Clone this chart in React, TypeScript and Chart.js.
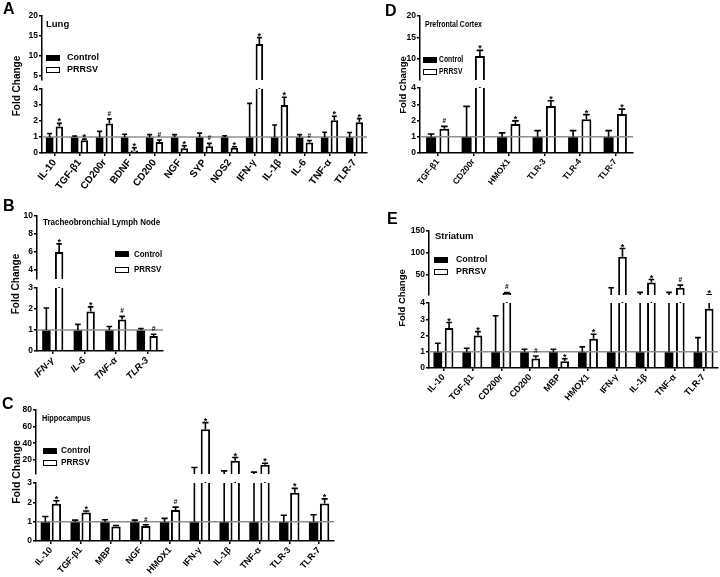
import React, { useEffect, useRef } from 'react';
import { Chart, registerables } from 'chart.js';

Chart.register(...registerables);

const FONT = "'Liberation Sans', Arial, Helvetica, sans-serif";

// ---------- A: Lung ----------
const lungGenes = ['IL-10', 'TGF-β1', 'CD200r', 'BDNF', 'CD200', 'NGF', 'SYP', 'NOS2', 'IFN-γ', 'IL-1β', 'IL-6', 'TNF-α', 'TLR-7'];
const lungControl = [1, 1, 1, 1, 1, 1, 1, 1, 1, 1, 1, 1, 1];
const lungControlSem = [0.22, 0.06, 0.35, 0.17, 0.15, 0.15, 0.24, 0.08, 2.1, 0.75, 0.15, 0.3, 0.28];
const lungPrrsv = [1.65, 0.8, 1.85, 0.15, 0.68, 0.3, 0.42, 0.33, 13.0, 3.0, 0.65, 2.05, 1.92];
const lungPrrsvSem = [0.2, 0.07, 0.28, 0.18, 0.13, 0.15, 0.18, 0.06, 1.6, 0.48, 0.13, 0.25, 0.23];
const lungMarks = ['*', '*', '#', '*', '#', '*', '#', '*', '*', '*', '#', '*', '*'];

// ---------- B: Tracheobronchial Lymph Node ----------
const tblnGenes = ['IFN-γ', 'IL-6', 'TNF-α', 'TLR-3'];
const tblnControl = [1, 1, 1, 1];
const tblnControlSem = [1.05, 0.27, 0.17, 0.07];
const tblnPrrsv = [6.0, 1.88, 1.5, 0.72];
const tblnPrrsvSem = [0.9, 0.22, 0.15, 0.08];
const tblnMarks = ['*', '*', '#', '#'];

// ---------- C: Hippocampus ----------
const hippoGenes = ['IL-10', 'TGF-β1', 'MBP', 'NGF', 'HMOX1', 'IFN-γ', 'IL-1β', 'TNF-α', 'TLR-3', 'TLR-7'];
const hippoControl = [1, 1, 1, 1, 1, 1, 1, 1, 1, 1];
const hippoControlSem = [0.27, 0.08, 0.1, 0.08, 0.17, 9.8, 5.8, 4.2, 0.33, 0.36];
const hippoPrrsv = [1.93, 1.47, 0.75, 0.78, 1.6, 56.8, 18.8, 14, 2.49, 1.94];
const hippoPrrsvSem = [0.15, 0.08, 0.05, 0.06, 0.15, 8, 4, 2, 0.23, 0.24];
const hippoMarks = ['*', '*', '', '#', '#', '*', '*', '*', '*', '*'];

// ---------- D: Prefrontal Cortex ----------
const pfcGenes = ['TGF-β1', 'CD200r', 'HMOX1', 'TLR-3', 'TLR-4', 'TLR-7'];
const pfcControl = [1, 1, 1, 1, 1, 1];
const pfcControlSem = [0.17, 1.87, 0.24, 0.38, 0.38, 0.38];
const pfcPrrsv = [1.5, 10.6, 1.78, 2.9, 2.08, 2.4];
const pfcPrrsvSem = [0.14, 1.35, 0.2, 0.32, 0.28, 0.3];
const pfcMarks = ['#', '*', '*', '*', '*', '*'];

// ---------- E: Striatum ----------
const striGenes = ['IL-10', 'TGF-β1', 'CD200r', 'CD200', 'MBP', 'HMOX1', 'IFN-γ', 'IL-1β', 'TNF-α', 'TLR-7'];
const striControl = [1, 1, 1, 1, 1, 1, 1, 1, 1, 1];
const striControlSem = [0.52, 0.22, 2.22, 0.15, 0.15, 0.3, 20.4, 10, 10, 0.87];
const striPrrsv = [2.46, 2.0, 10, 0.58, 0.42, 1.8, 91.4, 33.5, 21.4, 3.65];
const striPrrsvSem = [0.34, 0.24, 0.8, 0.16, 0.15, 0.28, 18.8, 6.5, 6, 1.75];
const striMarks = ['*', '*', '#', '#', '*', '*', '*', '*', '#', '*'];

const YW = 30;
const PT = 10;
const PB = 10;
const PR = 4;
const XH = 50;

type Seg = { min: number; max: number; ticks?: number[]; top: number; bottom: number };
type Txt = { size: number; sx: number };
type Panel = {
  key: string;
  letter: string;
  letterPos: [number, number];
  title: string;
  titlePos: [number, number];
  titleFont: Txt;
  legendX: number;
  legendTextX: number;
  legendY: [number, number];
  legendFont: Txt;
  foldPos: [number, number];
  foldSize: number;
  labels: string[];
  control: number[];
  controlSem: number[];
  prrsv: number[];
  prrsvSem: number[];
  marks: string[];
  axisX: number;
  right: number;
  upper: Seg;
  lower: Seg;
  catPct: number;
  barPct: number;
  xFont: { size: number; style: string; rot: number };
  yFontSize: number;
};

const panels: Panel[] = [
  {
    key: 'A', letter: 'A', letterPos: [3, 3],
    title: 'Lung', titlePos: [46, 24], titleFont: { size: 9.5, sx: 1 },
    legendX: 46, legendTextX: 67, legendY: [57.5, 69.5], legendFont: { size: 9, sx: 1 },
    foldPos: [17, 86], foldSize: 10,
    labels: lungGenes, control: lungControl, controlSem: lungControlSem, prrsv: lungPrrsv, prrsvSem: lungPrrsvSem, marks: lungMarks,
    axisX: 42, right: 367,
    upper: { min: 4, max: 20, ticks: [5, 10, 15, 20], top: 16, bottom: 80 },
    lower: { min: 0, max: 4, top: 89, bottom: 153 },
    catPct: 0.78, barPct: 0.77, xFont: { size: 10, style: 'normal', rot: 52 }, yFontSize: 8.5,
  },
  {
    key: 'B', letter: 'B', letterPos: [3, 200],
    title: 'Tracheobronchial Lymph Node', titlePos: [43, 222], titleFont: { size: 9, sx: 0.89 },
    legendX: 115, legendTextX: 134, legendY: [254.2, 269.5], legendFont: { size: 9, sx: 0.88 },
    foldPos: [16, 284], foldSize: 10,
    labels: tblnGenes, control: tblnControl, controlSem: tblnControlSem, prrsv: tblnPrrsv, prrsvSem: tblnPrrsvSem, marks: tblnMarks,
    axisX: 37, right: 163,
    upper: { min: 3, max: 10, ticks: [4, 6, 8, 10], top: 216, bottom: 279 },
    lower: { min: 0, max: 3, top: 288, bottom: 351 },
    catPct: 0.81, barPct: 0.66, xFont: { size: 9.5, style: 'italic', rot: 45 }, yFontSize: 8.5,
  },
  {
    key: 'C', letter: 'C', letterPos: [2, 398],
    title: 'Hippocampus', titlePos: [42, 418.5], titleFont: { size: 8.5, sx: 0.86 },
    legendX: 43, legendTextX: 61, legendY: [450.5, 462.5], legendFont: { size: 8.5, sx: 0.98 },
    foldPos: [16, 472], foldSize: 10.5,
    labels: hippoGenes, control: hippoControl, controlSem: hippoControlSem, prrsv: hippoPrrsv, prrsvSem: hippoPrrsvSem, marks: hippoMarks,
    axisX: 36, right: 334,
    upper: { min: 3, max: 80, ticks: [20, 40, 60, 80], top: 410, bottom: 474 },
    lower: { min: 0, max: 3, top: 483, bottom: 541 },
    catPct: 0.74, barPct: 0.85, xFont: { size: 9, style: 'normal', rot: 48 }, yFontSize: 8.5,
  },
  {
    key: 'D', letter: 'D', letterPos: [385, 5],
    title: 'Prefrontal Cortex', titlePos: [425, 24], titleFont: { size: 8.5, sx: 0.82 },
    legendX: 423, legendTextX: 439, legendY: [59.5, 71.5], legendFont: { size: 8.5, sx: 0.8 },
    foldPos: [402.5, 85], foldSize: 9.5,
    labels: pfcGenes, control: pfcControl, controlSem: pfcControlSem, prrsv: pfcPrrsv, prrsvSem: pfcPrrsvSem, marks: pfcMarks,
    axisX: 420, right: 633,
    upper: { min: 5, max: 20, ticks: [10, 15, 20], top: 16, bottom: 80 },
    lower: { min: 0, max: 4, top: 88, bottom: 153 },
    catPct: 0.75, barPct: 0.75, xFont: { size: 8.5, style: 'normal', rot: 52 }, yFontSize: 8.5,
  },
  {
    key: 'E', letter: 'E', letterPos: [387, 213],
    title: 'Striatum', titlePos: [435, 236], titleFont: { size: 9.5, sx: 1 },
    legendX: 434, legendTextX: 456, legendY: [259.5, 271.5], legendFont: { size: 9, sx: 0.98 },
    foldPos: [401.5, 298], foldSize: 9.5,
    labels: striGenes, control: striControl, controlSem: striControlSem, prrsv: striPrrsv, prrsvSem: striPrrsvSem, marks: striMarks,
    axisX: 429, right: 718,
    upper: { min: 5, max: 150, ticks: [50, 100, 150], top: 231, bottom: 295 },
    lower: { min: 0, max: 4, top: 303, bottom: 368 },
    catPct: 0.78, barPct: 0.77, xFont: { size: 9, style: 'normal', rot: 48 }, yFontSize: 8.5,
  },
];

function annotPlugin(p: Panel, isLower: boolean) {
  const seg = isLower ? p.lower : p.upper;
  return {
    id: 'annot' + p.key + (isLower ? 'L' : 'U'),
    afterDatasetsDraw(chart: any) {
      const ctx = chart.ctx as CanvasRenderingContext2D;
      const a = chart.chartArea;
      const y = chart.scales.y;
      ctx.save();
      if (isLower) {
        const yy = y.getPixelForValue(1);
        ctx.strokeStyle = '#8f8f8f';
        ctx.lineWidth = 1.5;
        ctx.beginPath();
        ctx.moveTo(a.left, yy);
        ctx.lineTo(a.right, yy);
        ctx.stroke();
      }
      ctx.beginPath();
      ctx.rect(a.left, a.top - 1, a.right - a.left, a.bottom - a.top + 1);
      ctx.clip();
      ctx.strokeStyle = '#000';
      ctx.lineWidth = 1.6;
      const series: [number[], number[]][] = [
        [p.control, p.controlSem],
        [p.prrsv, p.prrsvSem],
      ];
      series.forEach(([m, s], di) => {
        chart.getDatasetMeta(di).data.forEach((bar: any, j: number) => {
          const x = bar.x;
          const w = bar.width;
          const capVal = m[j] + s[j];
          if (capVal < seg.min) return;
          const y0 = y.getPixelForValue(Math.max(m[j], seg.min));
          const y1 = y.getPixelForValue(Math.min(capVal, seg.max));
          const cw = w * 0.33;
          ctx.beginPath();
          ctx.moveTo(x, y0);
          ctx.lineTo(x, y1);
          if (capVal <= seg.max) {
            ctx.moveTo(x - cw, y1);
            ctx.lineTo(x + cw, y1);
          }
          ctx.stroke();
        });
      });
      ctx.restore();

      ctx.save();
      ctx.fillStyle = '#000';
      ctx.textAlign = 'center';
      ctx.textBaseline = 'alphabetic';
      chart.getDatasetMeta(1).data.forEach((bar: any, j: number) => {
        const mk = p.marks[j];
        if (!mk) return;
        const capVal = p.prrsv[j] + p.prrsvSem[j];
        if (capVal < seg.min || capVal > seg.max) return;
        const y1 = y.getPixelForValue(capVal);
        if (mk === '*') {
          ctx.font = `bold 9px ${FONT}`;
          ctx.fillText(mk, bar.x, y1 + 1);
        } else {
          ctx.font = `bold 6.5px ${FONT}`;
          ctx.fillText(mk, bar.x, y1 - 3);
        }
      });
      ctx.restore();
    },
  };
}

function Segment({ p, isLower }: { p: Panel; isLower: boolean }) {
  const ref = useRef<HTMLCanvasElement>(null);
  const seg = isLower ? p.lower : p.upper;
  const left = p.axisX - YW;
  const top = seg.top - PT;
  const width = p.right - p.axisX + YW + PR;
  const height = PT + (seg.bottom - seg.top) + (isLower ? XH : PB);

  useEffect(() => {
    if (!ref.current) return;
    const tickFont = { family: FONT, size: p.yFontSize, weight: 'bold' as const };
    const xScale: any = {
      display: isLower,
      offset: true,
      grid: { display: true, drawOnChartArea: false, offset: false, color: '#000', lineWidth: 1.5, tickLength: 3 },
      border: { display: true, color: '#000', width: 1.5 },
      ticks: {
        autoSkip: false,
        minRotation: p.xFont.rot,
        maxRotation: p.xFont.rot,
        color: '#000',
        padding: 1,
        font: { family: FONT, size: p.xFont.size, weight: 'bold', style: p.xFont.style },
      },
    };
    if (isLower) {
      xScale.afterFit = (s: any) => {
        s.height = XH;
      };
    }
    const chart = new Chart(ref.current, {
      type: 'bar',
      data: {
        labels: p.labels,
        datasets: [
          {
            label: 'Control',
            data: p.control,
            backgroundColor: '#000',
            borderWidth: 0,
            categoryPercentage: p.catPct,
            barPercentage: p.barPct,
          },
          {
            label: 'PRRSV',
            data: p.prrsv,
            backgroundColor: '#fff',
            borderColor: '#000',
            borderWidth: 2,
            categoryPercentage: p.catPct,
            barPercentage: p.barPct,
          },
        ],
      },
      options: {
        responsive: false,
        animation: false,
        devicePixelRatio: 1,
        layout: { padding: { top: PT, bottom: isLower ? 0 : PB, left: 0, right: PR } },
        plugins: { legend: { display: false }, tooltip: { enabled: false }, title: { display: false } },
        scales: {
          x: xScale,
          y: {
            min: seg.min,
            max: seg.max,
            grid: { display: true, drawOnChartArea: false, color: '#000', lineWidth: 1.5, tickLength: 3 },
            border: { display: true, color: '#000', width: 1.5 },
            ticks: { stepSize: 1, color: '#000', padding: 1, font: tickFont },
            afterFit: (s: any) => {
              s.width = YW;
            },
            afterBuildTicks: seg.ticks
              ? (s: any) => {
                  s.ticks = (seg.ticks as number[]).map((v) => ({ value: v }));
                }
              : undefined,
          },
        },
      },
      plugins: [annotPlugin(p, isLower)],
    } as any);
    return () => chart.destroy();
  }, []);

  return (
    <canvas
      ref={ref}
      width={width}
      height={height}
      style={{ position: 'absolute', left, top, width, height }}
    />
  );
}

function Text({ x, cy, f, children }: { x: number; cy: number; f: Txt; children: React.ReactNode }) {
  return (
    <div
      style={{
        position: 'absolute',
        left: x,
        top: cy - f.size * 0.49,
        fontSize: f.size,
        lineHeight: `${f.size}px`,
        fontWeight: 'bold',
        whiteSpace: 'nowrap',
        transform: `scaleX(${f.sx})`,
        transformOrigin: 'left center',
      }}
    >
      {children}
    </div>
  );
}

function PanelView({ p }: { p: Panel }) {
  const boxW = 14;
  const boxH = 6;
  return (
    <>
      <Segment p={p} isLower={false} />
      <Segment p={p} isLower={true} />
      <div
        style={{
          position: 'absolute',
          left: p.letterPos[0],
          top: p.letterPos[1] - 2,
          fontSize: 16,
          lineHeight: '16px',
          fontWeight: 'bold',
        }}
      >
        {p.letter}
      </div>
      <Text x={p.titlePos[0]} cy={p.titlePos[1]} f={p.titleFont}>
        {p.title}
      </Text>
      <div
        style={{
          position: 'absolute',
          left: p.legendX,
          top: p.legendY[0] - boxH / 2,
          width: boxW,
          height: boxH,
          background: '#000',
        }}
      />
      <div
        style={{
          position: 'absolute',
          left: p.legendX,
          top: p.legendY[1] - boxH / 2,
          width: boxW,
          height: boxH,
          background: '#fff',
          border: '1.5px solid #000',
          boxSizing: 'border-box',
        }}
      />
      <Text x={p.legendTextX} cy={p.legendY[0]} f={p.legendFont}>
        Control
      </Text>
      <Text x={p.legendTextX} cy={p.legendY[1]} f={p.legendFont}>
        PRRSV
      </Text>
      <div
        style={{
          position: 'absolute',
          left: p.foldPos[0],
          top: p.foldPos[1],
          fontSize: p.foldSize,
          lineHeight: 1,
          fontWeight: 'bold',
          whiteSpace: 'nowrap',
          transform: 'translate(-50%, -50%) rotate(-90deg)',
        }}
      >
        Fold Change
      </div>
    </>
  );
}

export default function App() {
  return (
    <div
      style={{
        position: 'fixed',
        left: 0,
        top: 0,
        width: 720,
        height: 577,
        background: '#fff',
        overflow: 'hidden',
        fontFamily: FONT,
        color: '#000',
      }}
    >
      {panels.map((p) => (
        <PanelView key={p.key} p={p} />
      ))}
    </div>
  );
}
